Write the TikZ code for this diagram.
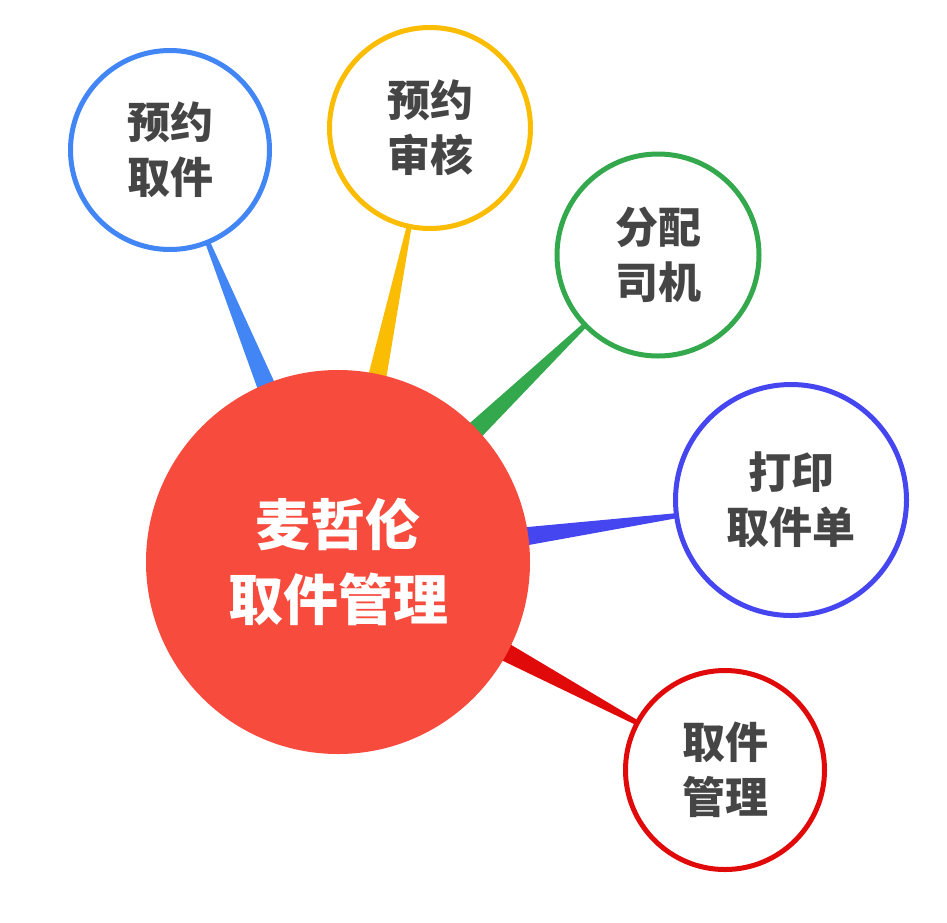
\documentclass[tikz,border=0pt]{standalone}
\usepackage{fontspec}
\newfontfamily\cjk{Noto Sans CJK SC}
\usetikzlibrary{calc,backgrounds}
\definecolor{cblue}{HTML}{4286F5}
\definecolor{cyellow}{HTML}{FBBC04}
\definecolor{cgreen}{HTML}{34A84D}
\definecolor{cpurple}{HTML}{4646F0}
\definecolor{cred}{HTML}{E00A0A}
\definecolor{ccenter}{HTML}{F64B3D}
\definecolor{ctext}{HTML}{454545}
\tikzset{
  sat/.style={circle, draw=#1, line width=5pt, fill=white, inner sep=0pt,
    text=ctext, align=center, font=\cjk\bfseries\fontsize{43}{55}\selectfont},
  hub/.style={circle, fill=ccenter, inner sep=0pt, minimum size=384pt,
    text=white, align=center, font=\cjk\bfseries\fontsize{55}{75}\selectfont}
}
\newcommand\wedgeconn[3]{% sat node, sat radius, colour
  \coordinate (w1) at ($(#1)!#2!(ctr)$);
  \coordinate (w2) at ($(ctr)!180pt!(#1)$);
  \fill[#3] ($(w1)!2.5pt!90:(ctr)$) -- ($(w1)!2.5pt!-90:(ctr)$)
     -- ($(w2)!9.5pt!90:(#1)$) -- ($(w2)!9.5pt!-90:(#1)$) -- cycle;
}
\begin{document}
\begin{tikzpicture}[x=1pt,y=-1pt]
\useasboundingbox (0,0) rectangle (947,922);
\node[hub] (ctr) at (338,562) {麦哲伦\\取件管理};
\node[sat=cblue, minimum size=199pt] (s1) at (170,150) {预约\\取件};
\node[sat=cyellow, minimum size=201pt] (s2) at (430,128) {预约\\审核};
\node[sat=cgreen, minimum size=202pt] (s3) at (658,255) {分配\\司机};
\node[sat=cpurple, minimum size=231pt] (s4) at (791,500) {打印\\取件单};
\node[sat=cred, minimum size=199pt] (s5) at (725,770) {取件\\管理};
\begin{scope}[on background layer]
\wedgeconn{s1}{100pt}{cblue}
\wedgeconn{s2}{101pt}{cyellow}
\wedgeconn{s3}{101pt}{cgreen}
\wedgeconn{s4}{115pt}{cpurple}
\wedgeconn{s5}{100pt}{cred}
\end{scope}
\end{tikzpicture}
\end{document}
